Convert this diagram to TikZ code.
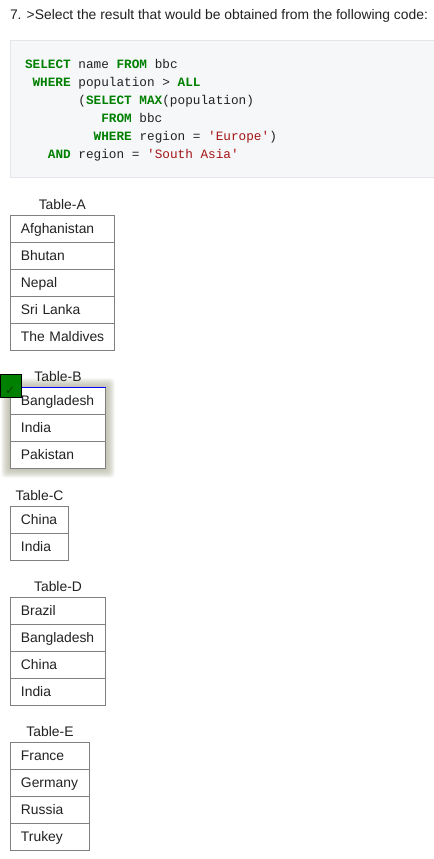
\documentclass[tikz,border=0pt]{standalone}
\usepackage{fontspec}
\setmainfont{Liberation Sans}
\newfontfamily\codefont{Liberation Mono}
\newfontfamily\symfont{DejaVu Sans}
\definecolor{txt}{HTML}{222222}
\definecolor{cellgray}{HTML}{808080}
\definecolor{codebg}{HTML}{F6F7F9}
\definecolor{codeborder}{HTML}{E4E4EA}
\definecolor{kw}{HTML}{008000}
\definecolor{str}{HTML}{A31515}
\definecolor{shadowcol}{HTML}{A9AA93}
\definecolor{chkgreen}{HTML}{008000}
\definecolor{chkdark}{HTML}{003A00}
\newcommand{\kwd}[1]{\textcolor{kw}{\bfseries #1}}
\newcommand{\strg}[1]{\textcolor{str}{#1}}
\begin{document}
\begin{tikzpicture}[x=0.75pt,y=-0.75pt,
  every node/.style={inner sep=0pt, outer sep=0pt, text=txt,
    font=\fontsize{10.4pt}{12pt}\selectfont},
  codeline/.style={anchor=base west, font=\codefont\fontsize{9.54pt}{12pt}\selectfont},
  cell/.style={draw=cellgray, line width=0.75pt, fill=white, anchor=north west,
    minimum height=20.25pt, text width=#1, inner xsep=8pt, align=left,
    text height=9pt, text depth=2.25pt},
  caption/.style={anchor=base}
]
\useasboundingbox (0,0) rectangle (433,859);
\fill[white] (0,0) rectangle (433,859);

% title
\node[anchor=base west] (title) at (10,20) {7. >Select the result that would be obtained from the following code:};

% code box
\node[draw=codeborder, fill=codebg, line width=0.75pt, anchor=north west,
  minimum width=318pt, minimum height=102.2pt] (codebox) at (10,41) {};
\node[codeline] (c1) at (25,69) {\kwd{SELECT} name \kwd{FROM} bbc};
\node[codeline] (c2) at (32.6,87) {\kwd{WHERE} population > \kwd{ALL}};
\node[codeline] (c3) at (78.4,105) {(\kwd{SELECT} \kwd{MAX}(population)};
\node[codeline] (c4) at (101.3,123) {\kwd{FROM} bbc};
\node[codeline] (c5) at (93.7,141) {\kwd{WHERE} region = \strg{'Europe'})};
\node[codeline] (c6) at (47.9,159) {\kwd{AND} region = \strg{'South Asia'}};

% Table A
\node[caption] (capA) at (62.3,209.3) {Table-A};
\node[cell=62pt] (a1) at (10.3,215.3) {Afghanistan};
\node[cell=62pt] (a2) at (10.3,242.3) {Bhutan};
\node[cell=62pt] (a3) at (10.3,269.3) {Nepal};
\node[cell=62pt] (a4) at (10.3,296.3) {Sri Lanka};
\node[cell=62pt] (a5) at (10.3,323.3) {\mbox{The Maldives}};

% Table B shadow
\foreach \o in {9,8,...,1}{
  \fill[fill=shadowcol, fill opacity=0.11, rounded corners=3pt] (10.3-\o,387.3-\o) rectangle (105.7+\o,468.7+\o);
}
\node[caption] (capB) at (58,381) {Table-B};
\node[cell=55.5pt] (b1) at (10.3,387.3) {Bangladesh};
\node[cell=55.5pt] (b2) at (10.3,414.4) {India};
\node[cell=55.5pt] (b3) at (10.3,441.5) {Pakistan};
\draw[blue, line width=0.75pt] (b1.north west) -- (b1.north east);
\node[draw=black, fill=chkgreen, line width=0.6pt, anchor=north west,
  minimum width=16.2pt, minimum height=17pt] (chk) at (0,374.7) {};
\node[font=\symfont\fontsize{8.5pt}{9pt}\selectfont, text=chkdark] (chkmark) at (10.2,390.5) {✓};

% Table C
\node[caption] (capC) at (39.5,500) {Table-C};
\node[cell=27.8pt] (c1r) at (10.3,506.3) {China};
\node[cell=27.8pt] (c2r) at (10.3,533.3) {India};

% Table D
\node[caption] (capD) at (58,591.5) {Table-D};
\node[cell=55.5pt] (d1) at (10.3,597.3) {Brazil};
\node[cell=55.5pt] (d2) at (10.3,624.4) {Bangladesh};
\node[cell=55.5pt] (d3) at (10.3,651.5) {China};
\node[cell=55.5pt] (d4) at (10.3,678.6) {India};

% Table E
\node[caption] (capE) at (50,736.3) {Table-E};
\node[cell=43.5pt] (e1) at (10.3,742.3) {France};
\node[cell=43.5pt] (e2) at (10.3,769.3) {Germany};
\node[cell=43.5pt] (e3) at (10.3,796.3) {Russia};
\node[cell=43.5pt] (e4) at (10.3,823.3) {Trukey};
\end{tikzpicture}
\end{document}
